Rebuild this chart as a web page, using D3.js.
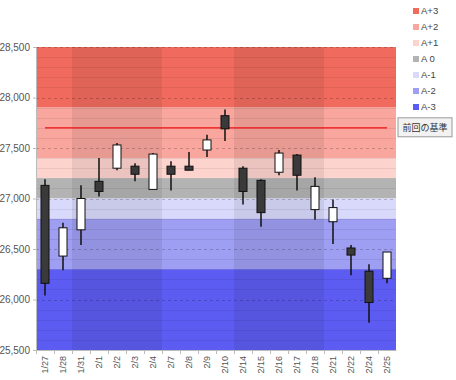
<!DOCTYPE html>
<html><head><meta charset="utf-8">
<script src="https://cdn.jsdelivr.net/npm/d3@7"></script>
<style>body{margin:0;background:#fff;}svg{display:block;font-family:"Liberation Sans",Arial,sans-serif;}</style>
</head><body><svg id="c" width="456" height="380"></svg>
<script>
const dates = ["1/27","1/28","1/31","2/1","2/2","2/3","2/4","2/7","2/8","2/9","2/10","2/14","2/15","2/16","2/17","2/18","2/21","2/22","2/24","2/25"];
const open  = [27130,26430,26690,27170,27300,27320,27090,27320,27320,27480,27820,27300,27180,27260,27430,26890,26770,26510,26280,26210];
const high  = [27190,26760,27130,27400,27550,27350,27450,27370,27460,27630,27880,27320,27190,27480,27440,27210,26990,26540,26350,26470];
const low   = [26040,26290,26540,27020,27280,27170,27090,27080,27280,27410,27570,26940,26720,27230,27080,26790,26550,26240,25770,26160];
const close = [26160,26710,27000,27070,27530,27240,27440,27240,27280,27580,27690,27070,26860,27450,27230,27120,26910,26440,25970,26470];
const bandNames = ["A+3","A+2","A+1","A 0","A-1","A-2","A-3"];
const bandFrom  = [27900,27400,27200,27000,26800,26300,25500];
const bandTo    = [28500,27900,27400,27200,27000,26800,26300];
const bandColors = ["#f06b5e","#f8a69e","#fdd3ce","#b3b3b3","#d9d9fb","#9e9ef2","#5c5cf2"];
const weekShade = [["1/31","2/4"],["2/14","2/18"]];
const prevBase = 27700;
const prevLabel = "前回の基準";
const yTicks = [25500,26000,26500,27000,27500,28000,28500];

const svg = d3.select("#c");
const L=36, R=396, T=47, B=350;
const x = d3.scaleBand().domain(dates).range([L,R]).padding(0);
const y = d3.scaleLinear().domain([25500,28500]).range([B,T]);

svg.append("g").selectAll("rect").data(bandNames).join("rect")
  .attr("x",L).attr("width",R-L)
  .attr("y",(d,i)=>y(bandTo[i])).attr("height",(d,i)=>y(bandFrom[i])-y(bandTo[i]))
  .attr("fill",(d,i)=>bandColors[i]);

svg.append("g").selectAll("rect").data(weekShade).join("rect")
  .attr("x",d=>x(d[0])).attr("width",d=>x(d[1])+x.bandwidth()-x(d[0]))
  .attr("y",T).attr("height",B-T).attr("fill","#000").attr("opacity",0.07);

const minor = d3.range(25600,28500,100).filter(v=>v%500!==0);
svg.append("g").selectAll("line").data(minor).join("line")
  .attr("x1",L).attr("x2",R).attr("y1",d=>Math.round(y(d))+0.5).attr("y2",d=>Math.round(y(d))+0.5)
  .attr("stroke","#000").attr("stroke-opacity",0.07);
svg.append("g").selectAll("line").data(yTicks.slice(1)).join("line")
  .attr("x1",L).attr("x2",R).attr("y1",d=>Math.round(y(d))+0.5).attr("y2",d=>Math.round(y(d))+0.5)
  .attr("stroke","#000").attr("stroke-opacity",0.2).attr("stroke-dasharray","3,3");

const ya = svg.append("g").attr("transform",`translate(${L},0)`)
  .call(d3.axisLeft(y).tickValues(yTicks).tickFormat(d3.format(",")).tickSize(3).tickPadding(3));
ya.select(".domain").attr("stroke","#bbb");
ya.selectAll(".tick line").attr("stroke","#bbb");
ya.selectAll("text").attr("fill","#555").style("font-size","10px");

const xa = svg.append("g").attr("transform",`translate(0,${B})`)
  .call(d3.axisBottom(x).tickSize(0));
xa.select(".domain").attr("stroke","#bbb");
xa.selectAll(".tick text").attr("fill","#555").style("font-size","9px")
  .attr("transform","rotate(-90)").attr("text-anchor","end").attr("x",-6).attr("y",0).attr("dy","0.35em");
svg.append("g").selectAll("line").data(dates).join("line")
  .attr("x1",d=>x(d)+0.5).attr("x2",d=>x(d)+0.5).attr("y1",B).attr("y2",B+4).attr("stroke","#bbb");

svg.append("line").attr("x1",x(dates[0])+x.bandwidth()/2).attr("x2",x(dates[dates.length-1])+x.bandwidth()/2)
  .attr("y1",y(prevBase)).attr("y2",y(prevBase)).attr("stroke","#ee1111").attr("stroke-width",1.2);

const idx = d3.range(dates.length);
const cx = i=>x(dates[i])+x.bandwidth()/2;
const cg = svg.append("g");
cg.selectAll("line").data(idx).join("line")
  .attr("x1",i=>cx(i)).attr("x2",i=>cx(i)).attr("y1",i=>y(high[i])).attr("y2",i=>y(low[i]))
  .attr("stroke","#111").attr("stroke-width",1.5);
cg.selectAll("rect").data(idx).join("rect")
  .attr("x",i=>cx(i)-4).attr("width",8)
  .attr("y",i=>y(Math.max(open[i],close[i])))
  .attr("height",i=>Math.max(1,Math.abs(y(open[i])-y(close[i]))))
  .attr("fill",i=>close[i]>=open[i]?"#ffffff":"#3a3a3a")
  .attr("stroke","#111").attr("stroke-width",1);

const lb = svg.append("g").attr("transform",`translate(398,${y(prevBase)-10})`);
lb.append("rect").attr("width",54).attr("height",19).attr("fill","#f2f2f2").attr("stroke","#999");
lb.append("text").attr("x",27).attr("y",10).attr("dy","0.35em").attr("text-anchor","middle")
  .attr("fill","#333").style("font-size","9px").style("font-family","'Noto Sans CJK JP',sans-serif").text(prevLabel);

const lg = svg.append("g").selectAll("g").data(bandNames).join("g")
  .attr("transform",(d,i)=>`translate(413,${11+i*16})`);
lg.append("rect").attr("x",0).attr("y",-3).attr("width",6).attr("height",6).attr("fill",(d,i)=>bandColors[i]);
lg.append("text").attr("x",8).attr("y",0).attr("dy","0.35em").attr("fill","#444").style("font-size","9.5px").text(d=>d);
</script></body></html>
